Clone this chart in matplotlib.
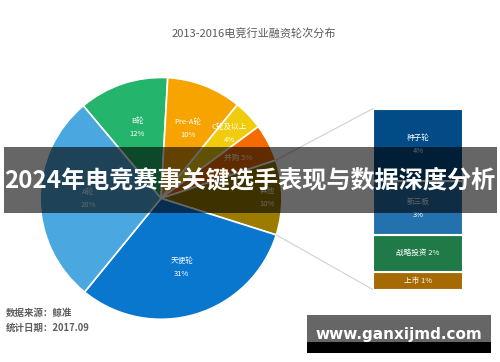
import numpy as np
import matplotlib.pyplot as plt
from matplotlib.patches import ConnectionPatch, Rectangle

plt.rcParams['font.family'] = ['Noto Sans CJK SC', 'DejaVu Sans']

# pie data (clockwise from the top-left)
pie_labels = ['B轮', 'Pre-A轮', 'C轮及以上', '并购', '其他', '天使轮', 'A轮']
pie_values = [12, 10, 4, 5, 10, 31, 28]
pie_colors = ['#25b46c', '#f7a300', '#f0cc0c', '#f46c00', '#9b7c00', '#0a77cf', '#4ba7e0']
pie_text = ['B轮\n12%', 'Pre-A轮\n10%', 'C轮及以上\n4%', '并购 5%', '其他\n10%', '天使轮\n31%', 'A轮\n28%']

# bar breakdown of "其他" (top to bottom)
bar_labels = ['种子轮', '新三板', '战略投资', '上市']
bar_values = [4, 3, 2, 1]
bar_colors = ['#024b86', '#2372ad', '#1f7a47', '#a66a02']
bar_text = ['种子轮\n4%', '新三板\n3%', '战略投资 2%', '上市 1%']

fig = plt.figure(figsize=(5, 3.62), dpi=100)
fig.patch.set_facecolor('white')

# pie
ax = fig.add_axes([0.322 - 0.242, 0.452 - 0.334, 0.484, 0.668])
wedges, _ = ax.pie(pie_values, colors=pie_colors, startangle=130, counterclock=False,
                   radius=1, wedgeprops=dict(edgecolor='white', linewidth=1.2))
ax.set_xlim(-1, 1)
ax.set_ylim(-1, 1)
ax.axis('off')

label_r = [0.62, 0.62, 0.78, 0.72, 0.88, 0.6, 0.6]
for w, txt, r in zip(wedges, pie_text, label_r):
    ang = np.deg2rad((w.theta1 + w.theta2) / 2)
    ax.text(r * np.cos(ang), r * np.sin(ang), txt, ha='center', va='center',
            color='white', fontsize=5.5, linespacing=1.8)

# stacked bar
bx = fig.add_axes([0.746, 0.2, 0.18, 0.5])
bottom = 0
for val, col, txt in zip(bar_values[::-1], bar_colors[::-1], bar_text[::-1]):
    bx.bar(0, val, width=1, bottom=bottom, color=col, edgecolor='white', linewidth=1.5)
    bx.text(0, bottom + val / 2, txt, ha='center', va='center', color='white',
            fontsize=5.5, linespacing=1.8)
    bottom += val
bx.set_xlim(-0.5, 0.5)
bx.set_ylim(0, sum(bar_values))
bx.axis('off')

# connector lines from the "其他" wedge to the bar
other = wedges[4]
for theta, yb in [(other.theta1, 0), (other.theta2, sum(bar_values))]:
    x = np.cos(np.deg2rad(theta))
    y = np.sin(np.deg2rad(theta))
    con = ConnectionPatch(xyA=(-0.5, yb), coordsA=bx.transData,
                          xyB=(x, y), coordsB=ax.transData,
                          color='#d0d0d0', linewidth=0.8)
    fig.add_artist(con)

fig.text(0.508, 0.908, '2013-2016电竞行业融资轮次分布', ha='center', va='center',
         color='#5a5a5a', fontsize=8)
fig.text(0.012, 0.135, '数据来源：鲸准', ha='left', va='center', color='#5e5e5e',
         fontsize=6.8, fontweight='bold')
fig.text(0.012, 0.094, '统计日期：2017.09', ha='left', va='center', color='#5e5e5e',
         fontsize=6.8, fontweight='bold')

# banner overlay
fig.add_artist(Rectangle((0.008, 1 - 213 / 362), 0.986, 66 / 362, transform=fig.transFigure,
                         facecolor='black', alpha=0.6, edgecolor='none'))
fig.text(0.5, 1 - 180 / 362, '2024年电竞赛事关键选手表现与数据深度分析', ha='center', va='center',
         color='white', fontsize=17.4, fontweight='bold')

# watermark
fig.add_artist(Rectangle((307 / 500, 1 - 353 / 362), 184 / 500, 11 / 362, transform=fig.transFigure,
                         facecolor='black', edgecolor='none'))
fig.add_artist(Rectangle((307 / 500, 1 - 342 / 362), 184 / 500, 27 / 362, transform=fig.transFigure,
                         facecolor='#666666', edgecolor='none'))
fig.text(399 / 500, 1 - 334 / 362, 'www.ganxijmd.com', ha='center', va='center',
         color='white', fontsize=11, fontweight='bold', family='DejaVu Sans')

fig.savefig('out.png', dpi=100)
